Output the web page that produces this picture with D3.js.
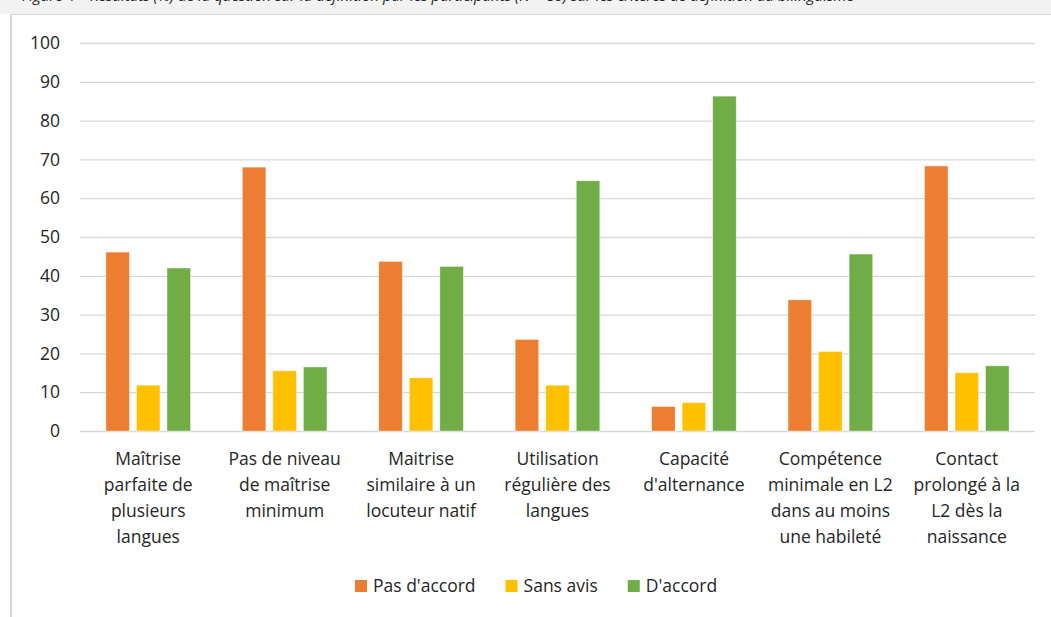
<!DOCTYPE html>
<html>
<head>
<meta charset="utf-8">
<script src="https://cdn.jsdelivr.net/npm/d3@7"></script>
<style>
  body { margin: 0; background: #fff; }
  svg { display: block; font-family: "Open Sans", "Noto Sans", sans-serif; }
</style>
</head>
<body>
<svg id="chart"></svg>
<script>
// données (%)
var categories = [
  ["Maîtrise", "parfaite de", "plusieurs", "langues"],
  ["Pas de niveau", "de maîtrise", "minimum"],
  ["Maitrise", "similaire à un", "locuteur natif"],
  ["Utilisation", "régulière des", "langues"],
  ["Capacité", "d'alternance"],
  ["Compétence", "minimale en L2", "dans au moins", "une habileté"],
  ["Contact", "prolongé à la", "L2 dès la", "naissance"]
];
var series = ["Pas d'accord", "Sans avis", "D'accord"];
var pasDaccord = [46.1, 68.0, 43.7, 23.6, 6.3, 33.8, 68.3];
var sansAvis   = [11.8, 15.5, 13.7, 11.8, 7.3, 20.5, 15.0];
var daccord    = [42.0, 16.5, 42.4, 64.5, 86.3, 45.6, 16.8];
var yTicks = [0, 10, 20, 30, 40, 50, 60, 70, 80, 90, 100];
var colors = ["#ED7D31", "#FFC000", "#70AD47"];
var caption = "Figure 4 – Résultats (%) de la question sur la définition par les participants (N = 80) sur les critères de définition du bilinguisme";

var W = 1051, H = 617;
var plotLeft = 80, plotRight = 1035, plotTop = 43, plotBottom = 431;
var fs = 17.5;
var txt = "#262626";

var svg = d3.select("#chart").attr("width", W).attr("height", H);

// bandeau gris du haut (légende de figure coupée) + cadre
svg.append("rect").attr("x", 0).attr("y", 0).attr("width", W).attr("height", 14).attr("fill", "#f2f2f2");
svg.append("text")
  .attr("x", 22).attr("y", 0.5)
  .attr("font-size", 15).attr("font-style", "italic").attr("fill", "#222")
  .text(caption);
svg.append("line").attr("x1", 10).attr("x2", W).attr("y1", 14.5).attr("y2", 14.5)
  .attr("stroke", "#d9d9d9").attr("stroke-width", 1);
svg.append("line").attr("x1", 11).attr("x2", 11).attr("y1", 14).attr("y2", H)
  .attr("stroke", "#d9d9d9").attr("stroke-width", 2);

var x0 = d3.scaleBand()
  .domain(d3.range(categories.length))
  .range([plotLeft, plotRight])
  .paddingInner(0.38).paddingOuter(0.19);

var x1 = d3.scaleBand()
  .domain(series)
  .range([0, x0.bandwidth()])
  .paddingInner(0.23);

var y = d3.scaleLinear().domain([0, 100]).range([plotBottom, plotTop]);

// grille + étiquettes de l'axe Y
var yAxis = svg.append("g")
  .attr("transform", "translate(" + plotLeft + ",0)")
  .call(d3.axisLeft(y).tickValues(yTicks).tickSize(-(plotRight - plotLeft)).tickPadding(20));
yAxis.select(".domain").remove();
yAxis.selectAll(".tick line").attr("stroke", "#d9d9d9").attr("stroke-width", 1.3);
yAxis.selectAll(".tick text")
  .attr("font-size", fs).attr("fill", txt)
  .attr("font-family", "'Open Sans', 'Noto Sans', sans-serif");

// barres
var values = [pasDaccord, sansAvis, daccord];
var groups = svg.append("g").selectAll("g")
  .data(categories)
  .enter().append("g")
  .attr("transform", function(d, i) { return "translate(" + x0(i) + ",0)"; });

groups.selectAll("rect")
  .data(function(d, i) {
    return series.map(function(s, j) { return { s: s, v: values[j][i], c: colors[j] }; });
  })
  .enter().append("rect")
  .attr("x", function(d) { return x1(d.s); })
  .attr("width", x1.bandwidth())
  .attr("y", function(d) { return y(d.v); })
  .attr("height", function(d) { return y(0) - y(d.v); })
  .attr("fill", function(d) { return d.c; })
  .attr("stroke", "#fff").attr("stroke-opacity", 0.5).attr("stroke-width", 0.75);

// étiquettes des catégories
var cat = svg.append("g").selectAll("text")
  .data(categories)
  .enter().append("text")
  .attr("text-anchor", "middle")
  .attr("font-size", fs).attr("fill", txt)
  .attr("transform", function(d, i) {
    return "translate(" + (x0(i) + x0.bandwidth() / 2) + ",465)";
  });
cat.selectAll("tspan")
  .data(function(d) { return d; })
  .enter().append("tspan")
  .attr("x", 0)
  .attr("dy", function(d, i) { return i === 0 ? 0 : 26; })
  .text(function(d) { return d; });

// légende
var legend = svg.append("g").attr("transform", "translate(355,586)");
var lx = 0;
series.forEach(function(s, i) {
  var g = legend.append("g").attr("transform", "translate(" + lx + ",0)");
  g.append("rect").attr("x", 0).attr("y", -6).attr("width", 12).attr("height", 12).attr("fill", colors[i]);
  var t = g.append("text").attr("x", 18).attr("y", 6)
    .attr("font-size", fs).attr("fill", txt).text(s);
  lx += 18 + t.node().getComputedTextLength() + 30;
});
</script>
</body>
</html>
